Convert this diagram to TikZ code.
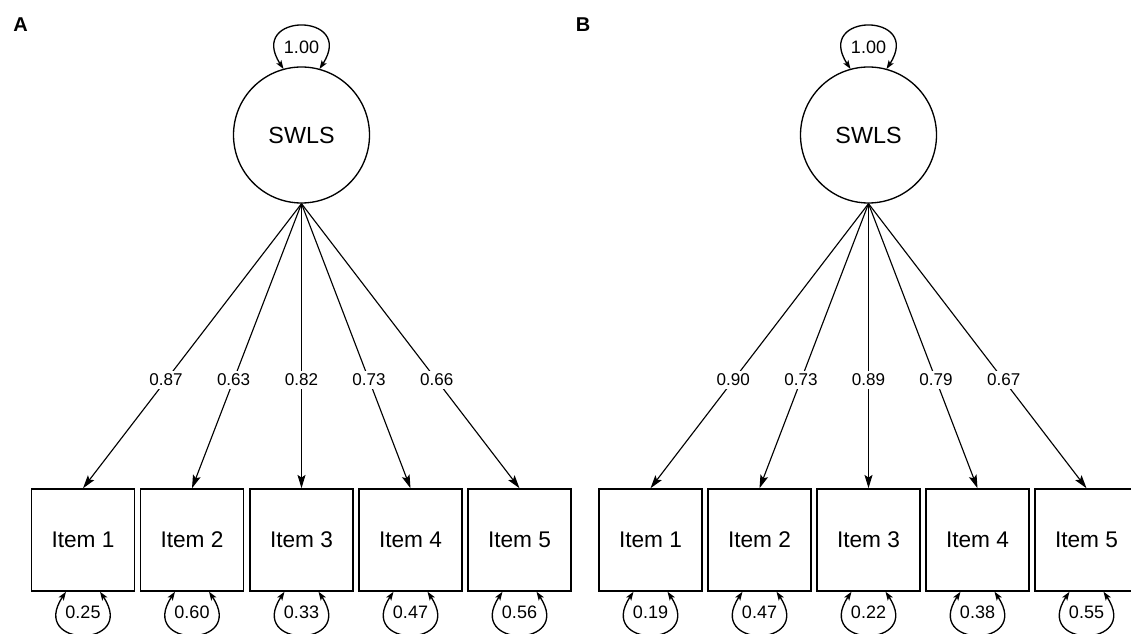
\documentclass[tikz,border=0pt]{standalone}
\usepackage{fontspec}
\setmainfont{Liberation Sans}
\usetikzlibrary{arrows.meta,calc}
\begin{document}
\begin{tikzpicture}[x=0.75pt,y=0.75pt,
  latent/.style={circle,draw,line width=1pt,minimum size=102pt,inner sep=0pt,font=\fontsize{17.5}{20}\selectfont},
  manifest/.style={rectangle,draw,line width=1.1pt,minimum width=77.25pt,minimum height=76.5pt,inner sep=0pt,font=\fontsize{17}{19}\selectfont},
  load/.style={-{Stealth[length=10pt,width=6pt,inset=2pt]},line width=0.85pt},
  loadlab/.style={fill=white,inner sep=2.5pt,font=\fontsize{12.8}{14}\selectfont},
  varloop/.style={{Stealth[length=6.5pt,width=4.5pt,inset=1.5pt]}-{Stealth[length=6.5pt,width=4.5pt,inset=1.5pt]},line width=1pt},
  varlab/.style={inner sep=0pt,font=\fontsize{13.5}{15}\selectfont},
  panel/.style={inner sep=0pt,font=\bfseries\fontsize{15}{17}\selectfont}
]
\useasboundingbox (0,0) rectangle (1131,-634);
\clip (0,0) rectangle (1131,-634);

% panel labels
\node[panel] (pA) at (20.5,-25) {A};
\node[panel] (pB) at (583,-25) {B};

% latent variables
\node[latent] (LA) at (301.5,-135) {SWLS};
\node[latent] (LB) at (868.5,-135) {SWLS};

% top variance loops
\foreach \L in {LA,LB}{
  \draw[varloop] ($(\L)+(-18,66)$) .. controls ($(\L)+(-55,123)$) and ($(\L)+(55,123)$) .. ($(\L)+(18,66)$);
  \node[varlab] (\L v) at ($(\L)+(0,88)$) {1.00};
}

% panel A items
\foreach \i/\x/\l/\v in {1/83/0.87/0.25,2/192/0.63/0.60,3/301.5/0.82/0.33,4/410.5/0.73/0.47,5/519.5/0.66/0.56}{
  \node[manifest] (A\i) at (\x,-540) {Item \i};
  \draw[load] (LA.south) -- node[loadlab,pos=0.62] (AL\i) {\l} (A\i.north);
  \draw[varloop] ($(A\i.south)+(-17,0)$) .. controls ($(A\i.south)+(-55,-57)$) and ($(A\i.south)+(55,-57)$) .. ($(A\i.south)+(17,0)$);
  \node[varlab] (AV\i) at ($(A\i.south)+(0,-21)$) {\v};
}

% panel B items
\foreach \i/\x/\l/\v in {1/650.5/0.90/0.19,2/759.5/0.73/0.47,3/868.5/0.89/0.22,4/977.5/0.79/0.38,5/1086.5/0.67/0.55}{
  \node[manifest] (B\i) at (\x,-540) {Item \i};
  \draw[load] (LB.south) -- node[loadlab,pos=0.62] (BL\i) {\l} (B\i.north);
  \draw[varloop] ($(B\i.south)+(-17,0)$) .. controls ($(B\i.south)+(-55,-57)$) and ($(B\i.south)+(55,-57)$) .. ($(B\i.south)+(17,0)$);
  \node[varlab] (BV\i) at ($(B\i.south)+(0,-21)$) {\v};
}
\end{tikzpicture}
\end{document}
